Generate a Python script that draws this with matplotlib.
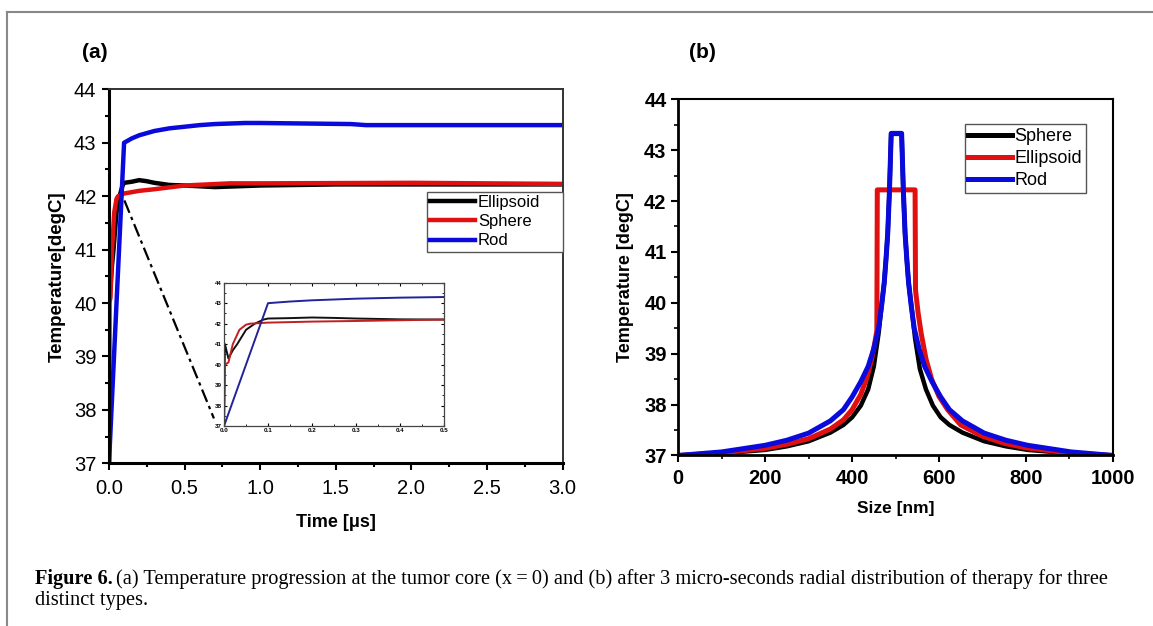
import matplotlib
matplotlib.use("Agg")
import matplotlib.pyplot as plt
from matplotlib.lines import Line2D

plt.rcParams['font.family'] = ['Liberation Sans', 'DejaVu Sans']

# ---- panel (a): temperature at tumor core vs time ----
t_rod = [0.0, 0.1, 0.15, 0.2, 0.3, 0.4, 0.5, 0.6, 0.7, 0.9, 1.0, 1.3, 1.6, 1.7, 2.2, 3.0]
T_rod = [37.0, 43.0, 43.08, 43.14, 43.22, 43.27, 43.3, 43.33, 43.35, 43.37, 43.37, 43.36, 43.35, 43.33, 43.33, 43.33]

t_ell = [0.0, 0.002, 0.01, 0.02, 0.03, 0.05, 0.07, 0.09, 0.1, 0.15, 0.2, 0.25, 0.3, 0.4, 0.5, 0.7, 1.0, 1.5, 3.0]
T_ell = [37.0, 41.0, 40.3, 40.7, 41.0, 41.7, 42.0, 42.2, 42.25, 42.27, 42.3, 42.28, 42.25, 42.21, 42.2, 42.17, 42.2, 42.22, 42.22]

t_sph = [0.0, 0.002, 0.01, 0.02, 0.035, 0.05, 0.06, 0.1, 0.2, 0.3, 0.5, 0.8, 1.0, 2.0, 3.0]
T_sph = [37.0, 40.0, 40.1, 41.0, 41.7, 41.95, 42.0, 42.05, 42.1, 42.13, 42.2, 42.24, 42.24, 42.25, 42.23]

# ---- panel (b): radial distribution after 3 us ----
x_sph = [0, 100, 200, 250, 300, 350, 380, 400, 420, 437, 450, 461, 468, 474, 478, 482, 486, 490,
         514, 518, 522, 526, 530, 537, 545, 556, 570, 586, 604, 624, 654, 704, 754, 804, 904, 1000]
T_sph_b = [37.0, 37.04, 37.11, 37.18, 37.28, 37.45, 37.6, 37.75, 37.98, 38.3, 38.75, 39.4, 39.95, 40.4,
           40.85, 41.36, 42.2, 43.32,
           43.32, 42.2, 41.36, 40.85, 40.4, 39.9, 39.3, 38.7, 38.3, 37.98, 37.75, 37.6, 37.45, 37.28,
           37.18, 37.11, 37.04, 37.0]

x_ell = [0, 100, 200, 250, 300, 350, 380, 400, 420, 435, 445, 452, 457, 458, 545, 546,
         552, 559, 570, 583, 600, 620, 650, 700, 750, 800, 900, 1000]
T_ell_b = [37.0, 37.05, 37.14, 37.22, 37.33, 37.52, 37.7, 37.9, 38.2, 38.55, 38.9, 39.2, 39.45, 42.22,
           42.22, 40.25, 39.8, 39.4, 38.9, 38.5, 38.16, 37.9, 37.6, 37.38, 37.24, 37.15, 37.05, 37.0]

x_rod = [0, 100, 200, 250, 300, 350, 380, 400, 420, 437, 450, 461, 468, 474, 478, 482, 486, 490,
         514, 518, 522, 526, 530, 536, 543, 554, 567, 584, 604, 624, 654, 704, 754, 804, 904, 1000]
T_rod_b = [37.0, 37.07, 37.2, 37.3, 37.44, 37.68, 37.9, 38.15, 38.45, 38.75, 39.1, 39.5, 39.95, 40.4,
           40.85, 41.36, 42.2, 43.33,
           43.33, 42.2, 41.36, 40.85, 40.4, 39.95, 39.5, 39.1, 38.75, 38.45, 38.15, 37.9, 37.68, 37.44,
           37.3, 37.2, 37.07, 37.0]

BLACK = '#000000'
RED = '#e01010'
BLUE = '#0a0adc'

fig = plt.figure(figsize=(11.53, 6.26), dpi=100)

# ---------------- panel (a) ----------------
ax1 = fig.add_axes([0.0945, 0.2599, 0.3935, 0.5974])
ax1.plot(t_ell, T_ell, color=BLACK, lw=3.2, label='Ellipsoid')
ax1.plot(t_sph, T_sph, color=RED, lw=3.2, label='Sphere')
ax1.plot(t_rod, T_rod, color=BLUE, lw=3.2, label='Rod')
ax1.plot([0.102, 0.694], [41.92, 37.84], color='black', lw=1.6, ls=(0, (6, 2, 1.5, 2)))
ax1.set_xlim(0, 3.0)
ax1.set_ylim(37, 44)
ax1.set_xticks([0.0, 0.5, 1.0, 1.5, 2.0, 2.5, 3.0])
ax1.set_xticks([0.25, 0.75, 1.25, 1.75, 2.25, 2.75], minor=True)
ax1.set_yticks(range(37, 45))
ax1.set_yticks([37.5 + i for i in range(7)], minor=True)
ax1.tick_params(which='major', direction='out', length=5, width=1.5, labelsize=14.5)
ax1.tick_params(axis='x', which='major', pad=6)
ax1.tick_params(axis='y', which='major', pad=4)
ax1.tick_params(which='minor', direction='out', length=3, width=1.5)
ax1.set_xlabel('Time [\u03bcs]', fontsize=13, fontweight='bold', labelpad=12)
ax1.set_ylabel('Temperature[degC]', fontsize=13.5, fontweight='bold', labelpad=6)
for s in ['left', 'bottom']:
    ax1.spines[s].set_linewidth(2.2)
for s in ['top', 'right']:
    ax1.spines[s].set_linewidth(1.4)
    ax1.spines[s].set_color('#333333')
leg1 = ax1.legend(loc='upper left', bbox_to_anchor=(0.701, 0.726, 0.299, 0), mode='expand',
                  fontsize=12, handlelength=2.7, handletextpad=0.15, borderpad=0.2,
                  labelspacing=0.25, borderaxespad=0, fancybox=False, framealpha=1,
                  edgecolor='#555555')
leg1.get_frame().set_linewidth(1.0)

# inset
axi = fig.add_axes([0.1943, 0.3195, 0.1908, 0.2289])
axi.plot(t_ell, T_ell, color='#111111', lw=1.4)
axi.plot(t_sph, T_sph, color='#c02020', lw=1.4)
axi.plot(t_rod, T_rod, color='#22229a', lw=1.4)
axi.set_xlim(0, 0.5)
axi.set_ylim(37, 44)
axi.set_xticks([0.0, 0.1, 0.2, 0.3, 0.4, 0.5])
axi.set_xticks([0.05, 0.15, 0.25, 0.35, 0.45], minor=True)
axi.set_yticks(range(37, 45))
axi.set_yticks([37.5 + i for i in range(7)], minor=True)
axi.tick_params(which='major', direction='in', length=2.5, width=0.8, labelsize=4.5, pad=1.5,
                top=True, right=True)
axi.tick_params(which='minor', direction='in', length=1.5, width=0.6, top=True, right=True)
for lab in axi.get_xticklabels() + axi.get_yticklabels():
    lab.set_fontweight('bold')
for s in axi.spines.values():
    s.set_linewidth(0.9)
    s.set_color('#444444')

fig.text(95 / 1153, 1 - 52 / 626, '(a)', fontsize=15, fontweight='bold', ha='center', va='center')

# ---------------- panel (b) ----------------
ax2 = fig.add_axes([0.5883, 0.2724, 0.3768, 0.569])
ax2.plot(x_sph, T_sph_b, color=BLACK, lw=3.2, label='Sphere')
ax2.plot(x_ell, T_ell_b, color=RED, lw=3.6, label='Ellipsoid')
ax2.plot(x_rod, T_rod_b, color=BLUE, lw=3.6, label='Rod')
ax2.set_xlim(0, 1000)
ax2.set_ylim(37, 44)
ax2.set_xticks(range(0, 1001, 200))
ax2.set_xticks(range(100, 1000, 200), minor=True)
ax2.set_yticks(range(37, 45))
ax2.set_yticks([37.5 + i for i in range(7)], minor=True)
ax2.tick_params(which='major', direction='out', length=5, width=1.5, labelsize=14.5, pad=3.5)
ax2.tick_params(axis='x', which='major', pad=5)
ax2.tick_params(which='minor', direction='out', length=3, width=1.2)
for lab in ax2.get_xticklabels() + ax2.get_yticklabels():
    lab.set_fontweight('bold')
ax2.set_xlabel('Size [nm]', fontsize=12.5, fontweight='bold', labelpad=9)
ax2.set_ylabel('Temperature [degC]', fontsize=13, fontweight='bold', labelpad=7)
for s in ['left', 'bottom']:
    ax2.spines[s].set_linewidth(2.0)
for s in ['top', 'right']:
    ax2.spines[s].set_linewidth(1.5)
leg2 = ax2.legend(loc='upper left', bbox_to_anchor=(0.659, 0.93), fontsize=13,
                  handlelength=2.4, handletextpad=0.15, borderpad=0.2, labelspacing=0.28,
                  borderaxespad=0, fancybox=False, framealpha=1, edgecolor='#555555')
leg2.get_frame().set_linewidth(1.0)
for h in leg2.get_lines():
    h.set_linewidth(3.6)

fig.text(702 / 1153, 1 - 52 / 626, '(b)', fontsize=15, fontweight='bold', ha='center', va='center')

# ---------------- frame and caption ----------------
fig.add_artist(Line2D([7 / 1153, 7 / 1153], [0, 1 - 12 / 626], transform=fig.transFigure,
                      color='#888888', lw=1.5))
fig.add_artist(Line2D([7 / 1153, 1], [1 - 12 / 626, 1 - 12 / 626], transform=fig.transFigure,
                      color='#888888', lw=1.5))

cap_y1 = 1 - 579 / 626
cap_y2 = 1 - 601 / 626
t1 = fig.text(35 / 1153, cap_y1, 'Figure 6.', fontsize=14.7, fontweight='bold',
              family='Liberation Serif', va='center', ha='left')
fig.canvas.draw()
bb = t1.get_window_extent()
fig.text(bb.x1 / fig.bbox.width + 0.003, cap_y1,
         '(a) Temperature progression at the tumor core (x\u2009=\u20090) and (b) after 3 micro-seconds '
         'radial distribution of therapy for three',
         fontsize=14.7, family=['Liberation Serif', 'DejaVu Serif'], va='center', ha='left')
fig.text(35 / 1153, cap_y2, 'distinct types.', fontsize=14.7, family='Liberation Serif',
         va='center', ha='left')

fig.savefig('out.png', dpi=100)
